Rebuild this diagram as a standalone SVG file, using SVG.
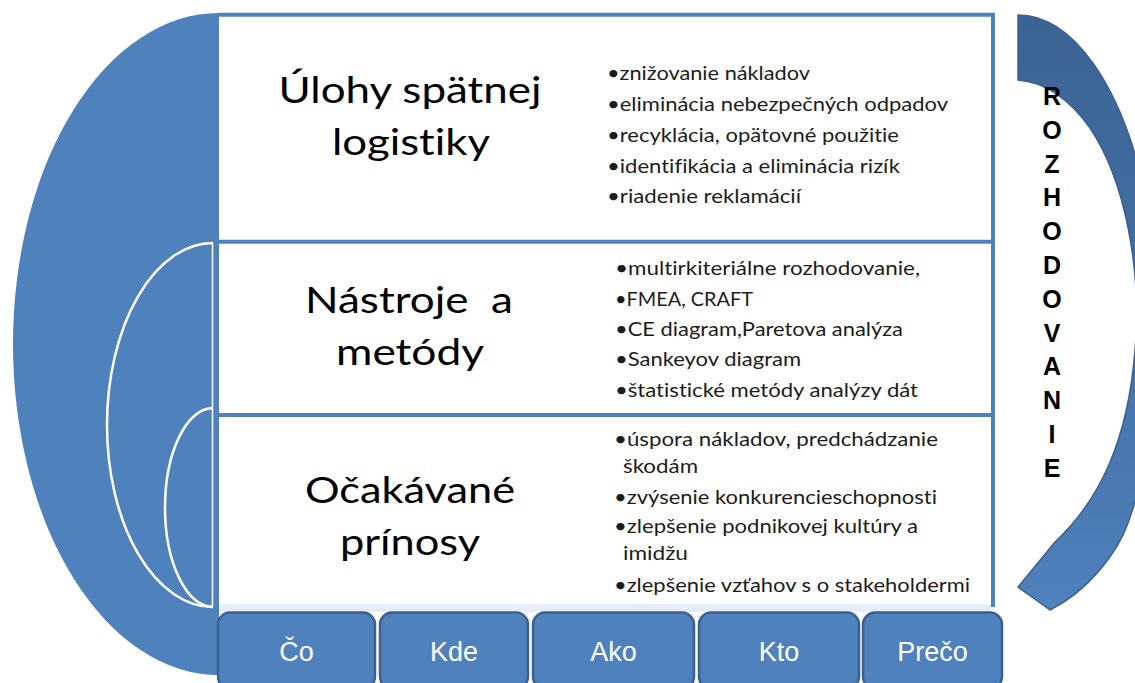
<svg xmlns="http://www.w3.org/2000/svg" width="1135" height="683" viewBox="0 0 1135 683">
<defs>
<style>
.title{font-family:Lato,"Open Sans","Noto Sans",sans-serif;font-size:37px;fill:#000;text-anchor:middle;font-variant-ligatures:none;font-feature-settings:"liga" 0,"clig" 0}
.bul{font-family:Lato,"Open Sans","Noto Sans",sans-serif;font-size:20px;fill:#1c1c1c;font-variant-ligatures:none;font-feature-settings:"liga" 0,"clig" 0}
.btnt{font-family:"Liberation Sans",Arial,sans-serif;font-size:27px;fill:#fff;text-anchor:middle}
.rz{font-family:"Liberation Sans",Arial,sans-serif;font-weight:bold;font-size:25px;fill:#000;text-anchor:middle}
.btn{fill:#4F81BD;stroke:#3B6091;stroke-width:2.5}
.frameline{stroke:#4F81BD;stroke-width:4;fill:none}
.warc{fill:none;stroke:#fff;stroke-width:2.5}
</style>
<linearGradient id="rg" gradientUnits="userSpaceOnUse" x1="0" y1="15" x2="0" y2="610">
<stop offset="0" stop-color="#3B6494"/>
<stop offset="0.5" stop-color="#4470A6"/>
<stop offset="1" stop-color="#4F81BD"/>
</linearGradient>
</defs>

<g id="left-shape">
<path d="M219,13 A206,331 0 0 0 219,675 Z" fill="#4F81BD"/>
<path class="warc" d="M213,243 A106,182 0 0 0 213,607"/>
<path class="warc" d="M213,408 A48,99.5 0 0 0 213,607"/>
<path d="M212.5,243 V607" stroke="#fff" stroke-width="1.5" fill="none"/>
</g>

<g id="frame">
<rect x="219" y="15" width="774" height="595" fill="#fff"/>
<rect x="219" y="604" width="772" height="8" fill="#E6EDF7"/>
<path class="frameline" d="M217,14.7 H995 M993,13 V607 M219,241.7 H993 M219,415 H993"/>
</g>

<g id="node-ulohy">
<text class="title" x="410" y="103" textLength="263" lengthAdjust="spacingAndGlyphs">Úlohy spätnej</text>
<text class="title" x="411" y="155" textLength="158" lengthAdjust="spacingAndGlyphs">logistiky</text>
<text class="bul" x="607" y="80" textLength="203" lengthAdjust="spacingAndGlyphs">•znižovanie nákladov</text>
<text class="bul" x="607" y="111" textLength="341" lengthAdjust="spacingAndGlyphs">•eliminácia nebezpečných odpadov</text>
<text class="bul" x="607" y="142" textLength="292" lengthAdjust="spacingAndGlyphs">•recyklácia, opätovné použitie</text>
<text class="bul" x="607" y="173" textLength="293" lengthAdjust="spacingAndGlyphs">•identifikácia a eliminácia rizík</text>
<text class="bul" x="607" y="203" textLength="194" lengthAdjust="spacingAndGlyphs">•riadenie reklamácií</text>
</g>

<g id="node-nastroje">
<text class="title" x="409" y="313" textLength="208" lengthAdjust="spacingAndGlyphs" xml:space="preserve">Nástroje  a</text>
<text class="title" x="410" y="365" textLength="148" lengthAdjust="spacingAndGlyphs">metódy</text>
<text class="bul" x="615" y="275" textLength="305" lengthAdjust="spacingAndGlyphs">•multirkiteriálne rozhodovanie,</text>
<text class="bul" x="615" y="306" textLength="138" lengthAdjust="spacingAndGlyphs">•FMEA, CRAFT</text>
<text class="bul" x="615" y="336" textLength="288" lengthAdjust="spacingAndGlyphs">•CE diagram,Paretova analýza</text>
<text class="bul" x="615" y="366" textLength="186" lengthAdjust="spacingAndGlyphs">•Sankeyov diagram</text>
<text class="bul" x="615" y="397" textLength="303" lengthAdjust="spacingAndGlyphs">•štatistické metódy analýzy dát</text>
</g>

<g id="node-prinosy">
<text class="title" x="410" y="503" textLength="210" lengthAdjust="spacingAndGlyphs">Očakávané</text>
<text class="title" x="410" y="555" textLength="140" lengthAdjust="spacingAndGlyphs">prínosy</text>
<text class="bul" x="614" y="446" textLength="324" lengthAdjust="spacingAndGlyphs">•úspora nákladov, predchádzanie</text>
<text class="bul" x="623" y="473" textLength="75" lengthAdjust="spacingAndGlyphs">škodám</text>
<text class="bul" x="614" y="504" textLength="323" lengthAdjust="spacingAndGlyphs">•zvýsenie konkurencieschopnosti</text>
<text class="bul" x="614" y="533" textLength="304" lengthAdjust="spacingAndGlyphs">•zlepšenie podnikovej kultúry a</text>
<text class="bul" x="623" y="560" textLength="65" lengthAdjust="spacingAndGlyphs">imidžu</text>
<text class="bul" x="614" y="592" textLength="356" lengthAdjust="spacingAndGlyphs">•zlepšenie vzťahov s o stakeholdermi</text>
</g>

<g id="btn-co"><rect class="btn" x="218" y="612.5" width="157" height="76" rx="12"/><text class="btnt" x="296.5" y="661">Čo</text></g>
<g id="btn-kde"><rect class="btn" x="380" y="612.5" width="148" height="76" rx="12"/><text class="btnt" x="454" y="661">Kde</text></g>
<g id="btn-ako"><rect class="btn" x="533" y="612.5" width="161" height="76" rx="12"/><text class="btnt" x="613.5" y="661">Ako</text></g>
<g id="btn-kto"><rect class="btn" x="699" y="612.5" width="160" height="76" rx="12"/><text class="btnt" x="779" y="661">Kto</text></g>
<g id="btn-preco"><rect class="btn" x="863" y="612.5" width="139" height="76" rx="12"/><text class="btnt" x="932.5" y="661">Prečo</text></g>

<g id="rozhodovanie">
<path d="M1018,15 A140.6,313 0 0 1 1128,523 C1118,551 1090,590 1050,610 L1018,587 L1055,542 C1100,500 1128,440 1135,350 C1142,270 1125,180 1090,128 C1070,100 1045,82 1018,80 Z" fill="url(#rg)" stroke="#3A5F8E" stroke-width="1.5"/>
<text class="rz"><tspan x="1052" y="105">R</tspan><tspan x="1052" y="138.8">O</tspan><tspan x="1052" y="172.6">Z</tspan><tspan x="1052" y="206.4">H</tspan><tspan x="1052" y="240.2">O</tspan><tspan x="1052" y="274">D</tspan><tspan x="1052" y="307.8">O</tspan><tspan x="1052" y="341.6">V</tspan><tspan x="1052" y="375.4">A</tspan><tspan x="1052" y="409.2">N</tspan><tspan x="1052" y="443">I</tspan><tspan x="1052" y="476.8">E</tspan></text>
</g>
</svg>
